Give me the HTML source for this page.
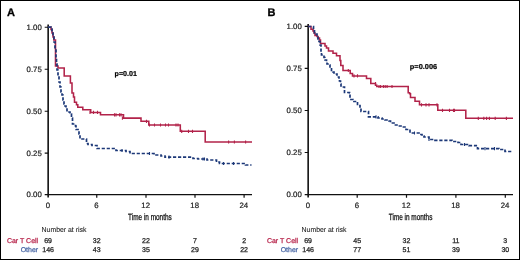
<!DOCTYPE html>
<html><head><meta charset="utf-8"><style>
html,body{margin:0;padding:0;background:#fff;}
svg{display:block;will-change:transform;}
text{font-family:"Liberation Sans",sans-serif;text-rendering:geometricPrecision;}
.t{font-size:7.8px;fill:#222;stroke:#222;stroke-width:0.2px;}
.tm{font-size:9px;fill:#111;stroke:#111;stroke-width:0.28px;}
.r{font-size:7px;fill:#222;stroke:#222;stroke-width:0.25px;}
.lab{font-size:11px;font-weight:bold;fill:#000;stroke:#000;stroke-width:0.3px;}
.pv{font-size:7.1px;font-weight:bold;fill:#000;stroke:#000;stroke-width:0.2px;}
</style></head><body>
<svg width="520" height="260" viewBox="0 0 520 260">
<rect x="0" y="0" width="520" height="260" fill="#fff"/>
<rect x="0.5" y="0.5" width="519" height="259" fill="none" stroke="#000" stroke-width="1"/>
<path d="M48.15,24.4 V197.6" stroke="#000" stroke-width="1.5" fill="none"/>
<path d="M47.5,194.6 H252" stroke="#111" stroke-width="1.3" fill="none"/>
<path d="M44.7,27.25 H48.1 M44.7,69.25 H48.1 M44.7,111.25 H48.1 M44.7,153.1 H48.1 M44.7,194.6 H48.1" stroke="#111" stroke-width="1.1" fill="none"/>
<path d="M96.75,194.6 V197.7 M146,194.6 V197.7 M195,194.6 V197.7 M244.1,194.6 V197.7" stroke="#111" stroke-width="1.2" fill="none"/>
<text x="41.8" y="29.8" text-anchor="end" class="t">1.00</text>
<text x="41.8" y="71.8" text-anchor="end" class="t">0.75</text>
<text x="41.8" y="113.8" text-anchor="end" class="t">0.50</text>
<text x="41.8" y="155.65" text-anchor="end" class="t">0.25</text>
<text x="41.8" y="197.15" text-anchor="end" class="t">0.00</text>
<text x="47.8" y="207.7" text-anchor="middle" class="t">0</text>
<text x="96.45" y="207.7" text-anchor="middle" class="t">6</text>
<text x="145.7" y="207.7" text-anchor="middle" class="t">12</text>
<text x="194.7" y="207.7" text-anchor="middle" class="t">18</text>
<text x="243.8" y="207.7" text-anchor="middle" class="t">24</text>
<text x="128.1" y="219.9" class="tm" textLength="43.6" lengthAdjust="spacingAndGlyphs">Time in months</text>
<text x="41.6" y="232" class="r" style="font-size:7.2px;stroke-width:0.08px" textLength="44.8" lengthAdjust="spacingAndGlyphs">Number at risk</text>
<text x="38.2" y="242.6" class="r" text-anchor="end" style="fill:#b8264c;stroke:#b8264c">Car T Cell</text>
<text x="38.2" y="251.6" class="r" text-anchor="end" style="fill:#4a68a6;stroke:#4a68a6">Other</text>
<text x="48.1" y="242.6" class="r" text-anchor="middle">69</text>
<text x="48.1" y="251.6" class="r" text-anchor="middle">146</text>
<text x="96.75" y="242.6" class="r" text-anchor="middle">32</text>
<text x="96.75" y="251.6" class="r" text-anchor="middle">43</text>
<text x="146" y="242.6" class="r" text-anchor="middle">22</text>
<text x="146" y="251.6" class="r" text-anchor="middle">35</text>
<text x="195" y="242.6" class="r" text-anchor="middle">7</text>
<text x="195" y="251.6" class="r" text-anchor="middle">29</text>
<text x="244.1" y="242.6" class="r" text-anchor="middle">2</text>
<text x="244.1" y="251.6" class="r" text-anchor="middle">22</text>
<text x="7.1" y="15.8" class="lab">A</text>
<text x="114.6" y="75.6" class="pv" textLength="22.4" lengthAdjust="spacingAndGlyphs">p=0.01</text>
<path d="M48,27.2 H51 V29.5 H52 V33 H53 V37 H53.8 V40 H55.5 V66 H58 V68 H64.2 V76 H70.4 V83 H72 V93 H73.5 V97 H74.5 V102.2 H76.5 V104.8 H77.8 V107.3 H82.8 V109.7 H90.7 V112.4 H100.5 V114.8 H123.5 V118.1 H141 V121.3 H148.8 V125 H180.3 V131.3 H205.2 V142 H252" stroke="#b2234a" stroke-width="1.55" fill="none"/>
<path d="M90,110.8 V114 M93.5,110.8 V114 M97.5,110.8 V114 M114.5,113.2 V116.4 M116,113.2 V116.4 M119.5,113.2 V116.4 M121,113.2 V116.4 M122.4,116.5 V119.7 M146.5,119.7 V122.9 M149.5,123.4 V126.6 M154.5,123.4 V126.6 M160.5,123.4 V126.6 M165.5,123.4 V126.6 M168.5,123.4 V126.6 M176,123.4 V126.6 M178,123.4 V126.6 M181.7,129.7 V132.9 M188.5,129.7 V132.9 M192.5,129.7 V132.9 M228.6,140.4 V143.6 M234.4,140.4 V143.6 M245.6,140.4 V143.6" stroke="#b2234a" stroke-width="1.1" fill="none"/>
<path d="M48,27.2 H51 V29 H52 V32 H53 V36 H54 V42 H55 V50 H56 V58 H56.5 V64 H57 V70 H58 V76 H59 V82 H60 V87 H61 V92 H62 V95 H63 V100 H64 V104 H65 V106 H66 V108 H67 V112 H70 V114 H71.5 V118 H72.5 V124 H75.5 V126 H76 V129.5 H79 V134 H80 V139 H86.5 V143.5 H88 V144.5 H92 V145.5 H97 V148.5 H116 V150.5 H126 V151.5 H130 V153.5 H154 V155 H161 V156 H165 V157.2 H193 V158.5 H198 V159 H207 V160 H216.5 V162 H219.5 V163.5 H245.5 V165 H251.5" stroke="#1c3878" stroke-width="1.7" fill="none" stroke-dasharray="3.2 1.8"/>
<path d="M122,148.9 V152.1 M149.5,151.9 V155.1 M169,155.6 V158.8 M203,157.4 V160.6 M204.5,157.4 V160.6 M223.5,161.9 V165.1 M233.5,161.9 V165.1" stroke="#1c3878" stroke-width="1.1" fill="none"/>
<path d="M308.15,23.9 V197.6" stroke="#000" stroke-width="1.5" fill="none"/>
<path d="M307.5,194.6 H513" stroke="#111" stroke-width="1.3" fill="none"/>
<path d="M304.7,26.4 H308.1 M304.7,68.4 H308.1 M304.7,110.5 H308.1 M304.7,152.5 H308.1 M304.7,194.6 H308.1" stroke="#111" stroke-width="1.1" fill="none"/>
<path d="M357.2,194.6 V197.7 M406.5,194.6 V197.7 M455.9,194.6 V197.7 M505.3,194.6 V197.7" stroke="#111" stroke-width="1.2" fill="none"/>
<text x="301.8" y="28.95" text-anchor="end" class="t">1.00</text>
<text x="301.8" y="70.95" text-anchor="end" class="t">0.75</text>
<text x="301.8" y="113.05" text-anchor="end" class="t">0.50</text>
<text x="301.8" y="155.05" text-anchor="end" class="t">0.25</text>
<text x="301.8" y="197.15" text-anchor="end" class="t">0.00</text>
<text x="307.8" y="207.7" text-anchor="middle" class="t">0</text>
<text x="356.9" y="207.7" text-anchor="middle" class="t">6</text>
<text x="406.2" y="207.7" text-anchor="middle" class="t">12</text>
<text x="455.6" y="207.7" text-anchor="middle" class="t">18</text>
<text x="505" y="207.7" text-anchor="middle" class="t">24</text>
<text x="388.8" y="219.9" class="tm" textLength="43.6" lengthAdjust="spacingAndGlyphs">Time in months</text>
<text x="301.6" y="232" class="r" style="font-size:7.2px;stroke-width:0.08px" textLength="44.8" lengthAdjust="spacingAndGlyphs">Number at risk</text>
<text x="298.2" y="242.6" class="r" text-anchor="end" style="fill:#b8264c;stroke:#b8264c">Car T Cell</text>
<text x="298.2" y="251.6" class="r" text-anchor="end" style="fill:#4a68a6;stroke:#4a68a6">Other</text>
<text x="308.1" y="242.6" class="r" text-anchor="middle">69</text>
<text x="308.1" y="251.6" class="r" text-anchor="middle">146</text>
<text x="357.2" y="242.6" class="r" text-anchor="middle">45</text>
<text x="357.2" y="251.6" class="r" text-anchor="middle">77</text>
<text x="406.5" y="242.6" class="r" text-anchor="middle">32</text>
<text x="406.5" y="251.6" class="r" text-anchor="middle">51</text>
<text x="455.9" y="242.6" class="r" text-anchor="middle">11</text>
<text x="455.9" y="251.6" class="r" text-anchor="middle">39</text>
<text x="505.3" y="242.6" class="r" text-anchor="middle">3</text>
<text x="505.3" y="251.6" class="r" text-anchor="middle">30</text>
<text x="267.5" y="15.8" class="lab">B</text>
<text x="409.8" y="68.7" class="pv" textLength="27.4" lengthAdjust="spacingAndGlyphs">p=0.006</text>
<path d="M308.1,26.5 H311 V29.3 H313 V31 H314 V33 H315 V35.5 H317 V36.5 H318 V38 H319.5 V40 H320.5 V43.5 H325 V46 H326.5 V48 H328.5 V51 H333 V53.3 H336.5 V55.8 H340 V60.5 H340.8 V65.5 H343 V70.5 H350.2 V73.5 H352.5 V75.9 H366.5 V78.5 H370.8 V83.5 H375.5 V85.3 H376.8 V86.5 H408.2 V92.8 H409.6 V93.8 H410.5 V97.5 H415 V101.2 H419.5 V104.8 H437.8 V110.3 H465.8 V118.3 H513" stroke="#b2234a" stroke-width="1.55" fill="none"/>
<path d="M348.3,68.9 V72.1 M354,74.3 V77.5 M357.5,74.3 V77.5 M375.5,81.9 V85.1 M379,84.9 V88.1 M380.6,84.9 V88.1 M383.4,84.9 V88.1 M385.2,84.9 V88.1 M387.1,84.9 V88.1 M392,84.9 V88.1 M421.5,103.2 V106.4 M426,103.2 V106.4 M429,103.2 V106.4 M437,103.2 V106.4 M442.5,108.7 V111.9 M449.5,108.7 V111.9 M453.5,108.7 V111.9 M454.5,108.7 V111.9 M478.3,116.7 V119.9 M483.8,116.7 V119.9 M486.6,116.7 V119.9 M489.4,116.7 V119.9 M495.2,116.7 V119.9 M506.4,116.7 V119.9" stroke="#b2234a" stroke-width="1.1" fill="none"/>
<path d="M308.1,26.5 H313.5 V30 H314.5 V33 H316 V34 H317 V36 H318 V40 H319 V41.5 H320 V45 H321 V52 H321.5 V55 H324 V57.5 H325 V60 H326.5 V62 H327 V64 H329 V65 H330 V68 H331.5 V70.5 H333 V72 H334 V74 H337 V77 H339 V79 H339.5 V81 H340.5 V84 H341 V87 H344.5 V92.5 H349.5 V93 H350 V99.5 H353 V101.5 H357.5 V105.5 H360 V108 H361 V111.5 H368.5 V116.8 H378 V118 H382 V119 H385 V120 H389 V121 H390.5 V123 H394 V125 H398 V126 H401 V127 H406 V129.5 H410 V133 H419 V134.5 H422 V136 H424 V137 H429 V139.5 H435 V140.3 H452 V141.5 H458 V142.5 H461 V144.5 H469 V145.7 H477.5 V148.6 H499 V149.5 H505 V151.5 H513" stroke="#1c3878" stroke-width="1.7" fill="none" stroke-dasharray="3.2 1.8"/>
<path d="M376,115.2 V118.4 M414.5,131.4 V134.6 M429,137.9 V141.1 M464.5,142.9 V146.1 M485,147 V150.2 M494.5,147 V150.2" stroke="#1c3878" stroke-width="1.1" fill="none"/>
</svg>
</body></html>
